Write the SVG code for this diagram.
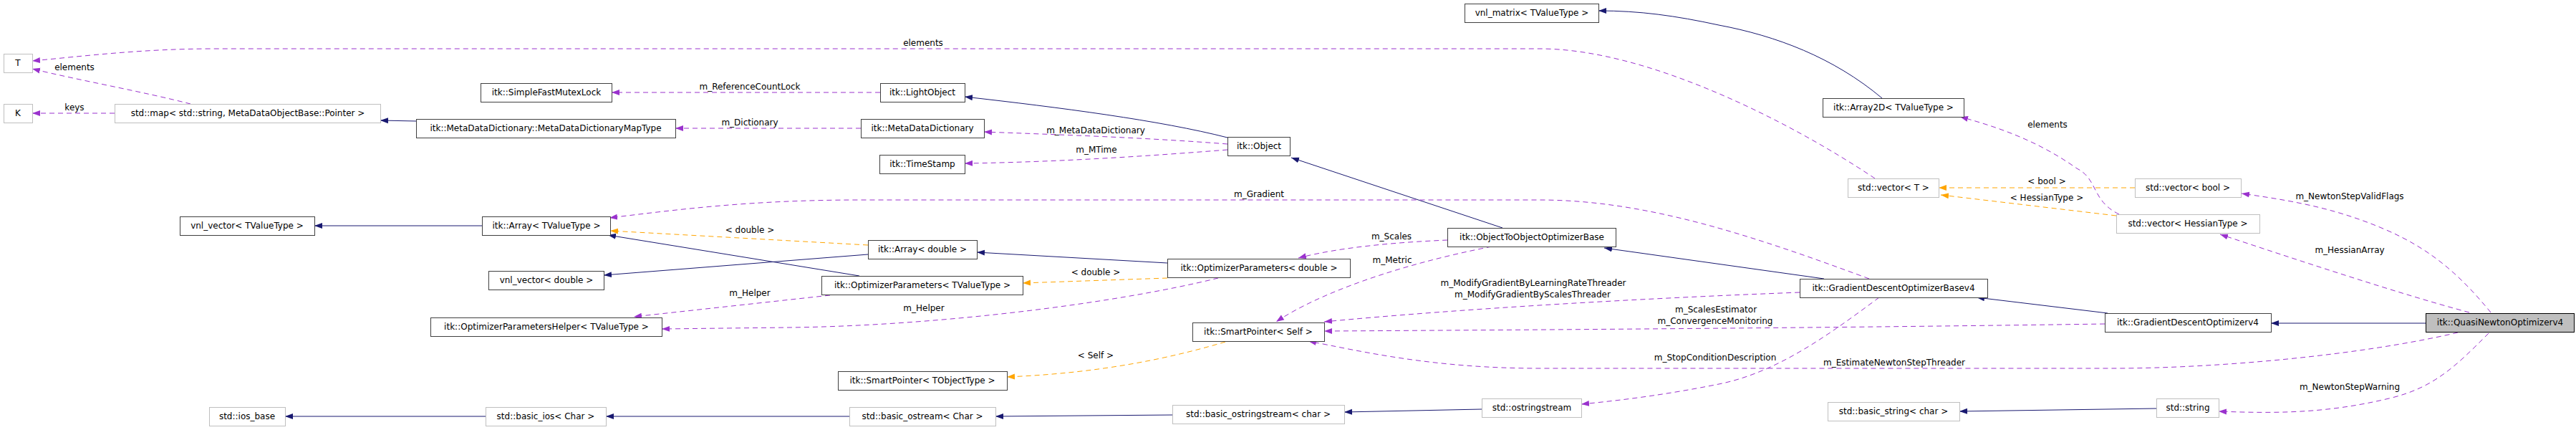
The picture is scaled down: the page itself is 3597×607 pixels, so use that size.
<svg xmlns="http://www.w3.org/2000/svg" width="3597" height="607" viewBox="0 0 3597 607">
<style>
text{font-family:"DejaVu Sans","Liberation Sans",sans-serif;font-size:12px;fill:#000}
.n text{text-anchor:middle}
.b{fill:#fff;stroke:#404040;stroke-width:1}
.g{fill:#fff;stroke:#bfbfbf;stroke-width:1}
.q{fill:#bfbfbf;stroke:#000;stroke-width:1}
.i{fill:none;stroke:#191970;stroke-width:1;marker-end:url(#an)}
.u{fill:none;stroke:#9a32cd;stroke-width:1;stroke-dasharray:7,5;marker-end:url(#ap)}
.t{fill:none;stroke:#ffa500;stroke-width:1;stroke-dasharray:7,5;marker-end:url(#ao)}
.l{text-anchor:middle}
</style>
<defs>
<marker id="an" markerWidth="12" markerHeight="10" refX="11" refY="5" orient="auto" markerUnits="userSpaceOnUse"><path d="M0,1 L11,5 L0,9 z" fill="#191970"/></marker>
<marker id="ap" markerWidth="12" markerHeight="10" refX="11" refY="5" orient="auto" markerUnits="userSpaceOnUse"><path d="M0,1 L11,5 L0,9 z" fill="#9a32cd"/></marker>
<marker id="ao" markerWidth="12" markerHeight="10" refX="11" refY="5" orient="auto" markerUnits="userSpaceOnUse"><path d="M0,1 L11,5 L0,9 z" fill="#ffa500"/></marker>
</defs>
<g id="edges">
<path class="u" d="M266,145 C200,128 110,112 45,96"/>
<path class="u" d="M2618,249 C2500,170 2300,68 2150,68 L300,68 C200,68 120,78 45,85"/>
<path class="u" d="M160,158 L45,158"/>
<path class="i" d="M581,169 L531,168"/>
<path class="i" d="M1714,192 C1620,168 1480,150 1347,135"/>
<path class="u" d="M1229,129 L854,129"/>
<path class="u" d="M1202,179 L943,179"/>
<path class="u" d="M1714,201 C1600,192 1480,188 1374,184"/>
<path class="u" d="M1714,209 C1600,218 1480,226 1347,228"/>
<path class="i" d="M2098,318 L1803,220"/>
<path class="u" d="M2610,389 C2450,330 2300,279 2150,279 L1200,279 C1050,279 950,292 851,304"/>
<path class="i" d="M673,315 L439,315"/>
<path class="t" d="M1212,342 L852,322"/>
<path class="i" d="M1200,385 L849,328"/>
<path class="i" d="M1212,355 L843,384"/>
<path class="i" d="M1630,367 L1364,352"/>
<path class="t" d="M1630,388 L1428,395"/>
<path class="u" d="M1159,412 L885,442"/>
<path class="u" d="M1701,388 C1550,425 1300,455 1100,457 L924,459"/>
<path class="u" d="M2021,335 C1950,338 1870,345 1813,360"/>
<path class="u" d="M2083,344 C1950,370 1840,410 1782,449"/>
<path class="t" d="M1711,477 C1600,510 1500,522 1406,526"/>
<path class="u" d="M2513,408 C2300,416 2050,430 1849,449"/>
<path class="u" d="M2939,452 C2600,457 2200,460 1849,462"/>
<path class="u" d="M3432,464 C3300,495 3100,514 2950,514 L2150,514 C2000,514 1900,490 1827,476"/>
<path class="u" d="M2624,415 C2550,470 2480,520 2400,536 C2330,550 2270,558 2208,564"/>
<path class="i" d="M2547,389 L2240,346"/>
<path class="i" d="M2943,437 L2760,415"/>
<path class="i" d="M3387,451 L3171,451"/>
<path class="i" d="M2628,137 C2560,80 2480,50 2400,35 C2340,22 2290,15 2232,15"/>
<path class="u" d="M2959,299 C2920,280 2930,250 2900,235 C2850,200 2800,180 2737,163"/>
<path class="t" d="M2981,262 L2707,262"/>
<path class="t" d="M2955,301 L2710,272"/>
<path class="u" d="M3478,436 C3440,390 3400,350 3330,320 C3260,290 3200,280 3130,270"/>
<path class="u" d="M3448,436 C3350,410 3200,360 3100,327"/>
<path class="u" d="M3475,465 C3430,510 3400,540 3340,555 C3250,577 3180,577 3098,574"/>
<path class="i" d="M3011,570 L2736,574"/>
<path class="i" d="M2069,571 L1877,575"/>
<path class="i" d="M1637,579 L1390,581"/>
<path class="i" d="M1186,581 L846,581"/>
<path class="i" d="M678,581 L398,581"/>
<text class="l" x="104" y="98">elements</text>
<text class="l" x="1289" y="64">elements</text>
<text class="l" x="104" y="154">keys</text>
<text class="l" x="1047" y="125">m_ReferenceCountLock</text>
<text class="l" x="1047" y="175">m_Dictionary</text>
<text class="l" x="1530" y="186">m_MetaDataDictionary</text>
<text class="l" x="1531" y="213">m_MTime</text>
<text class="l" x="1758" y="275">m_Gradient</text>
<text class="l" x="1047" y="325">&lt; double &gt;</text>
<text class="l" x="1530" y="384">&lt; double &gt;</text>
<text class="l" x="1047" y="413">m_Helper</text>
<text class="l" x="1290" y="434">m_Helper</text>
<text class="l" x="1943" y="334">m_Scales</text>
<text class="l" x="1944" y="367">m_Metric</text>
<text class="l" x="1530" y="500">&lt; Self &gt;</text>
<text class="l" x="2141" y="399">m_ModifyGradientByLearningRateThreader</text>
<text class="l" x="2140" y="415">m_ModifyGradientByScalesThreader</text>
<text class="l" x="2396" y="436">m_ScalesEstimator</text>
<text class="l" x="2395" y="452">m_ConvergenceMonitoring</text>
<text class="l" x="2645" y="510">m_EstimateNewtonStepThreader</text>
<text class="l" x="2395" y="503">m_StopConditionDescription</text>
<text class="l" x="2859" y="178">elements</text>
<text class="l" x="2858" y="257">&lt; bool &gt;</text>
<text class="l" x="2858" y="280">&lt; HessianType &gt;</text>
<text class="l" x="3281" y="278">m_NewtonStepValidFlags</text>
<text class="l" x="3281" y="353">m_HessianArray</text>
<text class="l" x="3281" y="544">m_NewtonStepWarning</text>
</g>
<g class="n" id="n_T"><rect class="g" x="5.5" y="75.5" width="40" height="26"/><text x="25" y="92">T</text></g>
<g class="n" id="n_K"><rect class="g" x="5.5" y="145.5" width="40" height="26"/><text x="25" y="162">K</text></g>
<g class="n" id="n_map"><rect class="g" x="160.5" y="145.5" width="371" height="26"/><text x="346" y="162">std::map&lt; std::string, MetaDataObjectBase::Pointer &gt;</text></g>
<g class="n" id="n_vnlvecT"><rect class="b" x="251.5" y="302.5" width="188" height="26"/><text x="345" y="319">vnl_vector&lt; TValueType &gt;</text></g>
<g class="n" id="n_iosbase"><rect class="g" x="292.5" y="568.5" width="106" height="26"/><text x="345" y="585">std::ios_base</text></g>
<g class="n" id="n_mdmap"><rect class="b" x="581.5" y="166.5" width="362" height="26"/><text x="762" y="183">itk::MetaDataDictionary::MetaDataDictionaryMapType</text></g>
<g class="n" id="n_mutex"><rect class="b" x="671.5" y="116.5" width="183" height="26"/><text x="763" y="133">itk::SimpleFastMutexLock</text></g>
<g class="n" id="n_arrT"><rect class="b" x="673.5" y="302.5" width="179" height="26"/><text x="763" y="319">itk::Array&lt; TValueType &gt;</text></g>
<g class="n" id="n_vnlvecd"><rect class="b" x="682.5" y="378.5" width="161" height="26"/><text x="763" y="395">vnl_vector&lt; double &gt;</text></g>
<g class="n" id="n_helper"><rect class="b" x="601.5" y="443.5" width="323" height="26"/><text x="763" y="460">itk::OptimizerParametersHelper&lt; TValueType &gt;</text></g>
<g class="n" id="n_basicios"><rect class="g" x="678.5" y="568.5" width="168" height="26"/><text x="762" y="585">std::basic_ios&lt; Char &gt;</text></g>
<g class="n" id="n_optT"><rect class="b" x="1147.5" y="385.5" width="281" height="26"/><text x="1288" y="402">itk::OptimizerParameters&lt; TValueType &gt;</text></g>
<g class="n" id="n_spT"><rect class="b" x="1170.5" y="518.5" width="236" height="26"/><text x="1288" y="535">itk::SmartPointer&lt; TObjectType &gt;</text></g>
<g class="n" id="n_bostream"><rect class="g" x="1186.5" y="568.5" width="204" height="26"/><text x="1288" y="585">std::basic_ostream&lt; Char &gt;</text></g>
<g class="n" id="n_light"><rect class="b" x="1229.5" y="116.5" width="118" height="26"/><text x="1288" y="133">itk::LightObject</text></g>
<g class="n" id="n_mdd"><rect class="b" x="1202.5" y="166.5" width="172" height="26"/><text x="1288" y="183">itk::MetaDataDictionary</text></g>
<g class="n" id="n_ts"><rect class="b" x="1228.5" y="216.5" width="119" height="26"/><text x="1288" y="233">itk::TimeStamp</text></g>
<g class="n" id="n_arrd"><rect class="b" x="1212.5" y="335.5" width="152" height="26"/><text x="1288" y="352">itk::Array&lt; double &gt;</text></g>
<g class="n" id="n_object"><rect class="b" x="1714.5" y="191.5" width="87" height="26"/><text x="1758" y="208">itk::Object</text></g>
<g class="n" id="n_optd"><rect class="b" x="1630.5" y="361.5" width="255" height="26"/><text x="1758" y="378">itk::OptimizerParameters&lt; double &gt;</text></g>
<g class="n" id="n_spSelf"><rect class="b" x="1665.5" y="450.5" width="184" height="26"/><text x="1757" y="467">itk::SmartPointer&lt; Self &gt;</text></g>
<g class="n" id="n_bosstream"><rect class="g" x="1637.5" y="565.5" width="240" height="26"/><text x="1757" y="582">std::basic_ostringstream&lt; char &gt;</text></g>
<g class="n" id="n_vnlmat"><rect class="b" x="2045.5" y="5.5" width="187" height="26"/><text x="2139" y="22">vnl_matrix&lt; TValueType &gt;</text></g>
<g class="n" id="n_o2o"><rect class="b" x="2021.5" y="318.5" width="235" height="26"/><text x="2139" y="335">itk::ObjectToObjectOptimizerBase</text></g>
<g class="n" id="n_oss"><rect class="g" x="2069.5" y="556.5" width="139" height="26"/><text x="2139" y="573">std::ostringstream</text></g>
<g class="n" id="n_arr2d"><rect class="b" x="2545.5" y="137.5" width="197" height="26"/><text x="2644" y="154">itk::Array2D&lt; TValueType &gt;</text></g>
<g class="n" id="n_vecT"><rect class="g" x="2580.5" y="249.5" width="127" height="26"/><text x="2644" y="266">std::vector&lt; T &gt;</text></g>
<g class="n" id="n_gdbase"><rect class="b" x="2513.5" y="389.5" width="262" height="26"/><text x="2644" y="406">itk::GradientDescentOptimizerBasev4</text></g>
<g class="n" id="n_bstring"><rect class="g" x="2552.5" y="561.5" width="184" height="26"/><text x="2644" y="578">std::basic_string&lt; char &gt;</text></g>
<g class="n" id="n_vecbool"><rect class="g" x="2981.5" y="249.5" width="148" height="26"/><text x="3055" y="266">std::vector&lt; bool &gt;</text></g>
<g class="n" id="n_vechess"><rect class="g" x="2955.5" y="299.5" width="200" height="26"/><text x="3055" y="316">std::vector&lt; HessianType &gt;</text></g>
<g class="n" id="n_gd"><rect class="b" x="2939.5" y="437.5" width="232" height="26"/><text x="3055" y="454">itk::GradientDescentOptimizerv4</text></g>
<g class="n" id="n_string"><rect class="g" x="3011.5" y="556.5" width="87" height="26"/><text x="3055" y="573">std::string</text></g>
<g class="n" id="n_quasi"><rect class="q" x="3387.5" y="437.5" width="207" height="26"/><text x="3491" y="454">itk::QuasiNewtonOptimizerv4</text></g>
</svg>
